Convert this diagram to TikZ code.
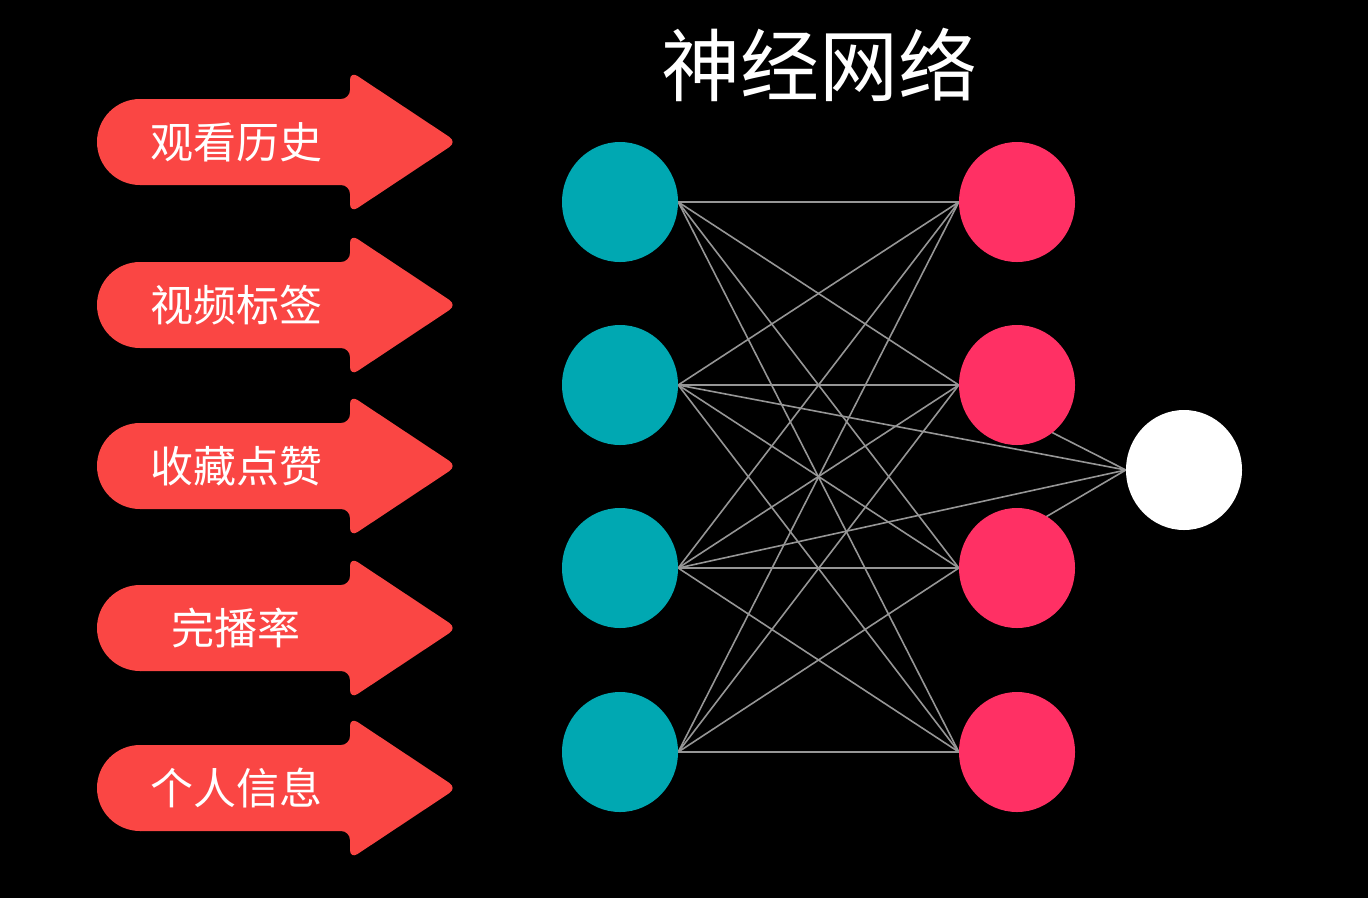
\documentclass[tikz,border=0pt]{standalone}
\usepackage{fontspec}
\newfontfamily\cjk{Noto Sans CJK SC}
\usetikzlibrary{shapes.geometric,backgrounds}
\definecolor{arrowred}{RGB}{250,70,68}
\definecolor{tealc}{RGB}{0,168,178}
\definecolor{pinkc}{RGB}{255,48,100}
\definecolor{linec}{RGB}{150,150,150}
\tikzset{
  neuron/.style={ellipse,minimum width=116pt,minimum height=120pt,inner sep=0pt},
  inn/.style={neuron,fill=tealc},
  hid/.style={neuron,fill=pinkc},
  outn/.style={neuron,fill=white},
  conn/.style={draw=linec,line width=1.6pt},
  lbl/.style={text=white,font=\cjk\fontsize{43}{48}\selectfont,inner sep=0pt},
  arrowbody/.style={fill=arrowred}
}
\begin{document}
\begin{tikzpicture}[x=1pt,y=-1pt]
\useasboundingbox (0,0) rectangle (1368,898);
% arrows
\foreach \c/\t/\n in {142/观看历史/a1,305/视频标签/a2,466/收藏点赞/a3,628/完播率/a4,788/个人信息/a5}{
  \fill[arrowred] (140,\c) circle (43);
  \fill[arrowred,rounded corners=9pt] (140,\c-43) -- (350,\c-43) -- (350,\c-71) -- (457,\c) -- (350,\c+71) -- (350,\c+43) -- (140,\c+43);
  \node[lbl] (\n) at (236,\c) {\t};
}
% title
\node[text=white,font=\cjk\fontsize{79}{88}\selectfont,inner sep=0pt] (title) at (819,65) {神经网络};
% neurons
\node[inn] (t1) at (620,202) {};
\node[inn] (t2) at (620,385) {};
\node[inn] (t3) at (620,568) {};
\node[inn] (t4) at (620,752) {};
\node[hid] (r1) at (1017,202) {};
\node[hid] (r2) at (1017,385) {};
\node[hid] (r3) at (1017,568) {};
\node[hid] (r4) at (1017,752) {};
\node[outn] (w) at (1184,470) {};
\begin{scope}[on background layer]
\fill[black] (0,0) rectangle (1368,898);
\foreach \i in {1,2,3,4}{
  \foreach \j in {1,2,3,4}{
    \draw[conn] (t\i.east) -- (r\j.west);
  }
}
\draw[conn] (r2.west) -- (w.west);
\draw[conn] (r3.west) -- (w.west);
\draw[conn] (t2.east) -- (w.west);
\draw[conn] (t3.east) -- (w.west);
\end{scope}
\end{tikzpicture}
\end{document}
